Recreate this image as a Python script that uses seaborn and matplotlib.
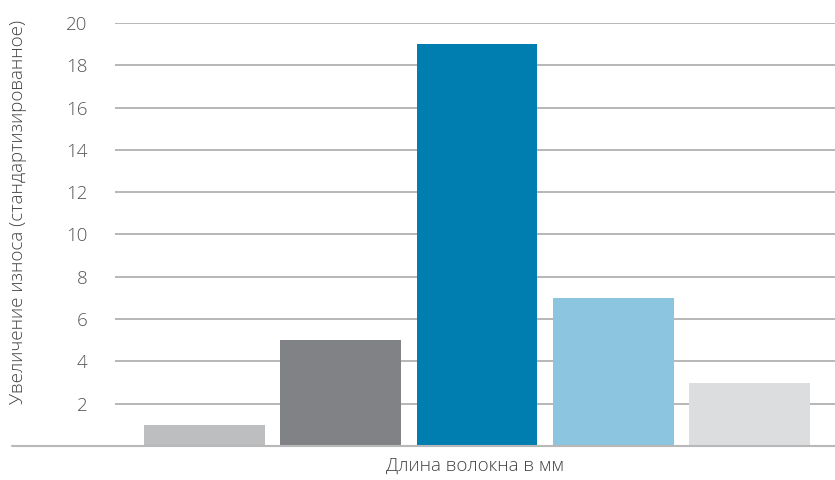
import matplotlib
matplotlib.use("Agg")
import matplotlib.pyplot as plt
import seaborn as sns
import pandas as pd

categories = ["A", "B", "C", "D", "E"]
values = [1, 5, 19, 7, 3]
colors = ["#bdbec0", "#808285", "#007eb0", "#8cc5e0", "#dcdddf"]
yticks = [2, 4, 6, 8, 10, 12, 14, 16, 18, 20]
ylabel = "Увеличение износа (стандартизированное)"
xlabel = "Длина волокна в мм"

sns.set_theme(style="white")
plt.rcParams['font.family'] = ['Open Sans', 'DejaVu Sans']

df = pd.DataFrame({"cat": categories, "val": values})

fig = plt.figure(figsize=(8.35, 4.8), dpi=100)
ax = fig.add_axes([115/835, 34/480, 720/835, (446-23)/480])

for y in yticks:
    ax.axhline(y, color="#a3a3a3", lw=1.1, zorder=0)

sns.barplot(data=df, x="cat", y="val", hue="cat", palette=colors,
            legend=False, width=0.887, saturation=1, ax=ax, zorder=2,
            linewidth=0)

ax.axhline(0, xmin=-(115-12)/720, xmax=1, color="#b8b8b8", lw=1.5,
           clip_on=False, zorder=3)

ax.set_xlim(-0.657, 4.627)
ax.set_ylim(0, 20)
ax.set_yticks(yticks)
ax.set_yticklabels([str(t) for t in yticks], fontsize=13.5, color="#555555",
                   fontweight="light")
ax.tick_params(axis="y", length=0, pad=20)
ax.set_xticks([])
for s in ax.spines.values():
    s.set_visible(False)

ax.set_xlabel(xlabel, fontsize=13.5, color="#444444", labelpad=8,
              fontweight="light")
ax.set_ylabel("")
fig.text(18/835, 1 - 212/480, ylabel, rotation=90, ha="center", va="center",
         fontsize=13.5, color="#444444", fontweight="light")

fig.savefig("out.png", dpi=100)
